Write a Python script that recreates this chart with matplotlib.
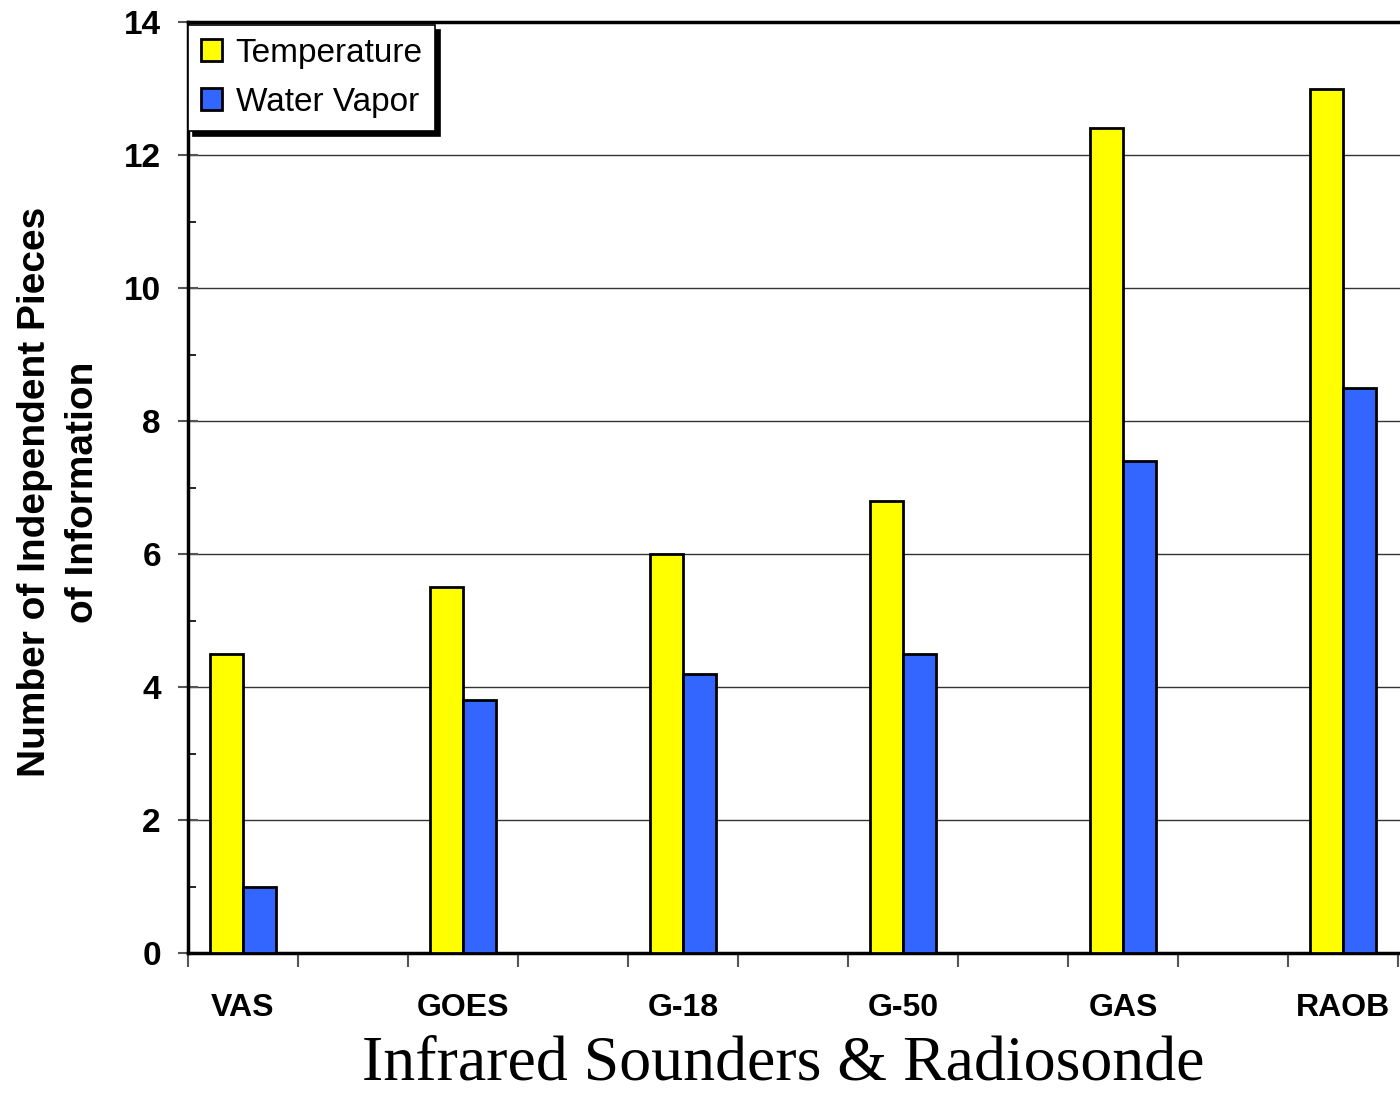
import numpy as np
import matplotlib
matplotlib.use('Agg')
import matplotlib.pyplot as plt
from matplotlib.patches import Shadow
from matplotlib.ticker import MultipleLocator, FixedLocator

# data
sounders = ['VAS', 'GOES', 'G-18', 'G-50', 'GAS', 'RAOB']
temperature = [4.5, 5.5, 6.0, 6.8, 12.4, 13.0]
water_vapor = [1.0, 3.8, 4.2, 4.5, 7.4, 8.5]

plt.rcParams['font.family'] = ['Liberation Sans', 'DejaVu Sans']

W, H = 1400, 1095
fig = plt.figure(figsize=(W / 100, H / 100), dpi=100)
# plot area runs past the right edge of the picture (as in the original)
ax = fig.add_axes([188 / W, (H - 953) / H, 1320 / W, (953 - 22) / H])

# each sounder takes two category slots, the second one is empty
x = np.arange(len(sounders)) * 2 + 0.5
bw = 0.3
ax.bar(x - bw, temperature, width=bw, align='edge', color='#FFFF00',
       edgecolor='black', linewidth=2, label='Temperature', zorder=3)
ax.bar(x, water_vapor, width=bw, align='edge', color='#3366FF',
       edgecolor='black', linewidth=2, label='Water Vapor', zorder=3)

ax.set_xlim(0, 12)
ax.set_ylim(0, 14)

# y axis
ax.yaxis.set_major_locator(MultipleLocator(2))
ax.yaxis.set_minor_locator(MultipleLocator(1))
ax.tick_params(axis='y', which='major', direction='inout', length=15, width=1.5,
               color='#555555', labelsize=24, pad=12)
ax.tick_params(axis='y', which='minor', direction='in', length=6, width=1.2)
for t in ax.get_yticklabels():
    t.set_fontweight('bold')
ax.grid(axis='y', which='major', color='#333333', linewidth=1, zorder=0)

# x axis: tick marks between slots, labels at sounder centres
ax.xaxis.set_major_locator(FixedLocator(np.arange(0, 13)))
ax.xaxis.set_minor_locator(FixedLocator(x))
ax.set_xticklabels([''] * 13)
ax.set_xticklabels(sounders, minor=True, fontsize=23, fontweight='bold')
ax.tick_params(axis='x', which='major', direction='out', length=10, width=1.5,
               color='#555555')
ax.tick_params(axis='x', which='minor', length=0, pad=29)

for side in ['left', 'bottom', 'top']:
    ax.spines[side].set_linewidth(2.5)
    ax.spines[side].set_color('black')
ax.spines['right'].set_visible(False)
ax.set_axisbelow(True)

fig.text(59 / W, 1 - 492 / H, 'Number of Independent Pieces\nof Information',
         rotation=90, ha='center', va='center', fontsize=28, fontweight='bold',
         linespacing=1.4, multialignment='center')
fig.text(783 / W, 1 - 1064 / H, 'Infrared Sounders & Radiosonde',
         family=['Liberation Serif', 'DejaVu Serif'], fontsize=46,
         ha='center', va='center')

leg = ax.legend(loc='upper left', bbox_to_anchor=(188 / W, 1 - 25 / H),
                bbox_transform=fig.transFigure, borderaxespad=0,
                fancybox=False, framealpha=1, edgecolor='black', fontsize=24,
                handlelength=0.65, handleheight=0.65, handletextpad=0.4,
                labelspacing=0.55, borderpad=0.38)
leg.get_frame().set_linewidth(1.2)
leg.set_zorder(6)
sh = Shadow(leg.legendPatch, 3.6, -3.6, facecolor='black', edgecolor='black', alpha=1)
sh.set_zorder(5.5)
sh.set_clip_on(False)
ax.add_artist(sh)

fig.canvas.draw()
fig.savefig('out.png', dpi=100)
